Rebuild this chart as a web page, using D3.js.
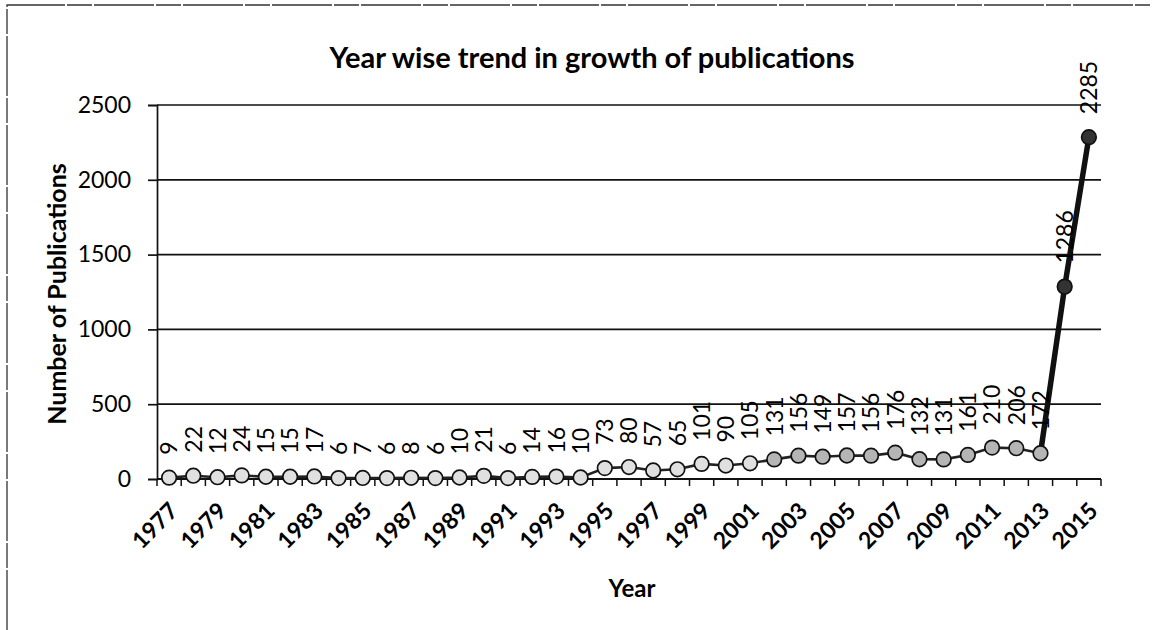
<!DOCTYPE html>
<html>
<head>
<meta charset="utf-8">
<script src="https://cdn.jsdelivr.net/npm/d3@7"></script>
<style>
  html, body { margin: 0; padding: 0; background: #fff; }
  svg { display: block; font-family: Lato, "Open Sans", sans-serif; }
</style>
</head>
<body>
<svg id="chart" width="1156" height="630"></svg>
<script>
// Publications per year
const years = [1977,1978,1979,1980,1981,1982,1983,1984,1985,1986,1987,1988,1989,1990,
  1991,1992,1993,1994,1995,1996,1997,1998,1999,2000,2001,2002,2003,2004,2005,2006,
  2007,2008,2009,2010,2011,2012,2013,2014,2015];
const publications = [9,22,12,24,15,15,17,6,7,6,8,6,10,21,6,14,16,10,73,80,57,65,101,90,105,
  131,156,149,157,156,176,132,131,161,210,206,172,1286,2285];
const yTicks = [0,500,1000,1500,2000,2500];
const xTickLabels = years.filter((y, i) => i % 2 === 0);

const title = "Year wise trend in growth of publications";
const xTitle = "Year";
const yTitle = "Number of Publications";

const data = years.map((y, i) => ({ year: y, value: publications[i] }));

const svg = d3.select("#chart");
const margin = { left: 157, right: 55, top: 105, bottom: 151 };
const W = 1156, H = 630;
const plotW = W - margin.left - margin.right;
const plotH = H - margin.top - margin.bottom;

// Frame around the chart (top and left edges)
svg.append("path")
  .attr("d", `M7,630 V5 H1150`)
  .attr("fill", "none")
  .attr("stroke", "#333")
  .attr("stroke-width", 1.3)
  .attr("stroke-dasharray", "60,2,25,2");

const x = d3.scaleBand().domain(years).range([0, plotW]).padding(0);
const y = d3.scaleLinear().domain([0, 2500]).range([plotH, 0]);

const g = svg.append("g").attr("transform", `translate(${margin.left},${margin.top})`);

// Horizontal gridlines
g.append("g").selectAll("line")
  .data(yTicks.filter(t => t > 0))
  .join("line")
  .attr("x1", 0).attr("x2", plotW)
  .attr("y1", d => y(d)).attr("y2", d => y(d))
  .attr("stroke", "#111").attr("stroke-width", 1.7);

// Y axis
const yAxis = g.append("g")
  .call(d3.axisLeft(y).tickValues(yTicks).tickSize(9).tickPadding(17).tickFormat(d3.format("d")));
yAxis.select(".domain").attr("stroke", "#111").attr("stroke-width", 1.7);
yAxis.selectAll(".tick line").attr("stroke", "#111").attr("stroke-width", 1.7);
yAxis.selectAll(".tick text")
  .attr("font-size", 23).attr("fill", "#000")
  .attr("font-family", "Lato, sans-serif");

// X axis: ticks between categories
const xAxisG = g.append("g").attr("transform", `translate(0,${plotH})`);
xAxisG.append("line")
  .attr("x1", 0).attr("x2", plotW).attr("y1", 0).attr("y2", 0)
  .attr("stroke", "#111").attr("stroke-width", 2);
xAxisG.selectAll(".sep")
  .data(years.map((yr, i) => i).concat([years.length]))
  .join("line")
  .attr("class", "sep")
  .attr("x1", i => i * x.bandwidth()).attr("x2", i => i * x.bandwidth())
  .attr("y1", 0).attr("y2", 7)
  .attr("stroke", "#111").attr("stroke-width", 1.5);

xAxisG.selectAll(".xl")
  .data(xTickLabels)
  .join("text")
  .attr("class", "xl")
  .attr("transform", d => `translate(${x(d) + x.bandwidth() / 2 - 1},${22}) rotate(-45)`)
  .attr("text-anchor", "end")
  .attr("dy", "0.7em")
  .attr("font-size", 23)
  .attr("font-weight", "bold")
  .attr("fill", "#000")
  .text(d => d);

const cx = d => x(d.year) + x.bandwidth() / 2;

// Line
const line = d3.line().x(cx).y(d => y(d.value));
g.append("path")
  .datum(data)
  .attr("fill", "none")
  .attr("stroke", "#222")
  .attr("stroke-width", 2.6)
  .attr("d", line);
g.append("path")
  .datum(data.slice(-3))
  .attr("fill", "none")
  .attr("stroke", "#111")
  .attr("stroke-width", 5.5)
  .attr("d", line);

// Markers
g.selectAll(".pt")
  .data(data)
  .join("circle")
  .attr("class", "pt")
  .attr("cx", cx)
  .attr("cy", d => y(d.value))
  .attr("r", 7.3)
  .attr("fill", d => d.value > 1000 ? "#333" : (d.value > 120 ? "#b5b5b5" : "#e0e0e0"))
  .attr("stroke", "#111")
  .attr("stroke-width", 1.7);

// Value labels
g.selectAll(".vl")
  .data(data)
  .join("text")
  .attr("class", "vl")
  .attr("transform", d => `translate(${cx(d)},${y(d.value) - 23}) rotate(-90)`)
  .attr("text-anchor", "start")
  .attr("dy", "0.36em")
  .attr("font-size", 23)
  .attr("fill", "#000")
  .text(d => d.value);

// Titles
svg.append("text")
  .attr("x", 592).attr("y", 68)
  .attr("text-anchor", "middle")
  .attr("font-size", 29).attr("font-weight", "bold").attr("fill", "#000")
  .text(title);

svg.append("text")
  .attr("x", 632).attr("y", 597)
  .attr("text-anchor", "middle")
  .attr("font-size", 24).attr("font-weight", "bold").attr("fill", "#000")
  .text(xTitle);

svg.append("text")
  .attr("transform", `translate(66,294) rotate(-90)`)
  .attr("text-anchor", "middle")
  .attr("font-size", 25).attr("font-weight", "bold").attr("fill", "#000")
  .text(yTitle);
</script>
</body>
</html>
